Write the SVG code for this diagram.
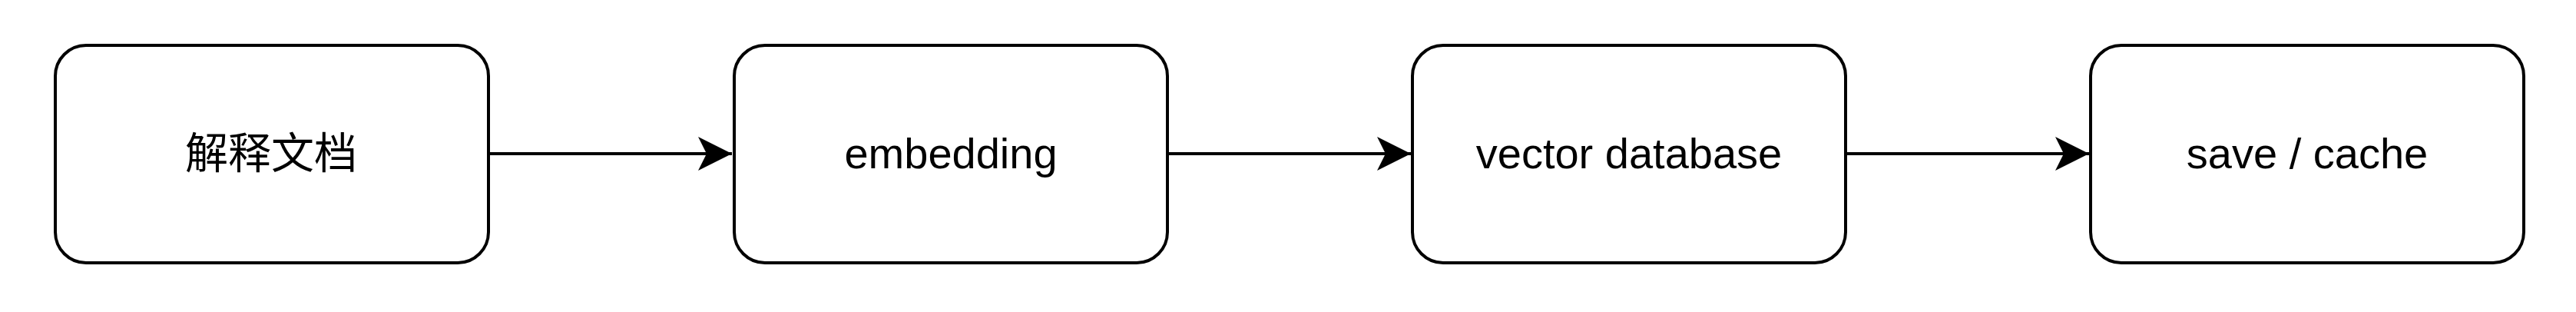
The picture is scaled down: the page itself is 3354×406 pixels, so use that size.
<svg xmlns="http://www.w3.org/2000/svg" width="3354" height="406" viewBox="0 0 3354 406">
<style>
.box{fill:#fff;stroke:#000;stroke-width:4}
.lbl{font-family:"Liberation Sans",Arial,"Noto Sans CJK SC",sans-serif;font-size:56px;fill:#000;text-anchor:middle}
.cjk{font-family:"Noto Sans CJK SC","Liberation Sans",sans-serif;font-size:56px;fill:#000;text-anchor:middle}
.edge{stroke:#000;stroke-width:4;fill:none}
</style>
<defs>
<marker id="arr" markerUnits="userSpaceOnUse" markerWidth="44" markerHeight="44" refX="40" refY="20" orient="auto" viewBox="0 0 40 40">
<path d="M0,0 L40,20 L0,40 L10,20 Z" fill="#000"/>
</marker>
</defs>
<rect width="3354" height="406" fill="#fff"/>
<g id="connectors">
<line class="edge" x1="636" y1="200" x2="953" y2="200" marker-end="url(#arr)"/>
<line class="edge" x1="1520" y1="200" x2="1837" y2="200" marker-end="url(#arr)"/>
<line class="edge" x1="2403" y1="200" x2="2720" y2="200" marker-end="url(#arr)"/>
</g>
<g id="node1">
<rect class="box" x="72" y="59" width="564" height="283" rx="40" ry="40"/>
<text class="cjk" x="353" y="219">解释文档</text>
</g>
<g id="node2">
<rect class="box" x="956" y="59" width="564" height="283" rx="40" ry="40"/>
<text class="lbl" x="1238" y="219">embedding</text>
</g>
<g id="node3">
<rect class="box" x="1839" y="59" width="564" height="283" rx="40" ry="40"/>
<text class="lbl" x="2121" y="219">vector database</text>
</g>
<g id="node4">
<rect class="box" x="2722" y="59" width="564" height="283" rx="40" ry="40"/>
<text class="lbl" x="3004" y="219">save / cache</text>
</g>
</svg>
